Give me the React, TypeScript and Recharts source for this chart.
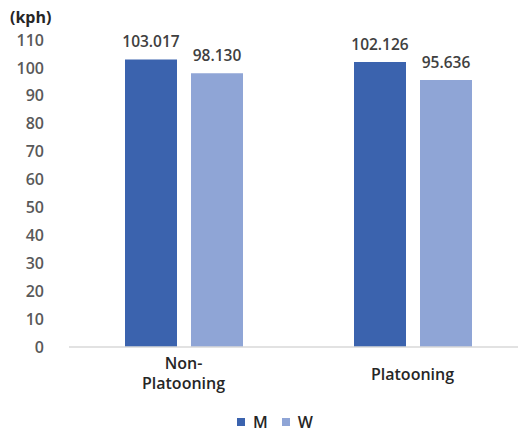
import React from "react";
import { BarChart, Bar, XAxis, YAxis, LabelList } from "recharts";

const categories = ["Non-\nPlatooning", "Platooning"];
const mValues = [103.017, 102.126];
const wValues = [98.13, 95.636];
const yTicks = [0, 10, 20, 30, 40, 50, 60, 70, 80, 90, 100, 110];
const seriesNames = ["M", "W"];

const data = categories.map((name, i) => ({ name, M: mValues[i], W: wValues[i] }));

const FONT = "'Open Sans', 'Noto Sans', sans-serif";
const M_COLOR = "#3B63AE";
const W_COLOR = "#8FA5D6";
const seriesColors = [M_COLOR, W_COLOR];

const CategoryTick = (props: any) => {
  const { x, y, payload } = props;
  const lines = String(payload.value).split("\n");
  const lineH = 20;
  const startY = y + 18 - ((lines.length - 1) * lineH) / 2 + (lines.length === 1 ? 1 : 0);
  return (
    <text x={x} textAnchor="middle" fill="#262626" fontSize={16} fontWeight={600} fontFamily={FONT}>
      {lines.map((l, i) => (
        <tspan key={i} x={x} y={startY + i * lineH} dy="0.355em">
          {l}
        </tspan>
      ))}
    </text>
  );
};

const LegendBox = () => (
  <div
    style={{
      position: "absolute",
      left: 10,
      width: 530,
      top: 414,
      display: "flex",
      justifyContent: "center",
      gap: 14,
      fontFamily: FONT,
      fontSize: 16,
      lineHeight: "16px",
      fontWeight: 600,
      color: "#262626",
    }}
  >
    {seriesNames.map((label, i) => (
      <span key={label} style={{ display: "flex", alignItems: "center", gap: 8 }}>
        <span style={{ width: 8, height: 8, background: seriesColors[i], display: "inline-block" }} />
        {label}
      </span>
    ))}
  </div>
);

const labelStyle = { fill: "#404040", fontSize: 15.5, fontWeight: 600, fontFamily: FONT };

export default function App() {
  return (
    <div
      style={{
        position: "absolute",
        left: 0,
        top: 0,
        width: 518,
        height: 432,
        background: "#fff",
        overflow: "hidden",
      }}
    >
      <div
        style={{
          position: "absolute",
          left: 10,
          top: 6,
          fontFamily: FONT,
          fontSize: 16,
          fontWeight: 700,
          color: "#262626",
        }}
      >
        (kph)
      </div>
      <BarChart
        width={530}
        height={432}
        data={data}
        margin={{ top: 40, right: 3, bottom: 0, left: 0 }}
        barCategoryGap={56}
        barGap={14}
      >
        <YAxis
          width={69}
          domain={[0, 110]}
          ticks={yTicks}
          interval={0}
          axisLine={false}
          tickLine={false}
          tickSize={0}
          tickMargin={25}
          tick={{ fill: "#595959", fontSize: 16, fontWeight: 600, fontFamily: FONT }}
        />
        <XAxis
          dataKey="name"
          height={85}
          axisLine={{ stroke: "#D9D9D9", strokeWidth: 1.5 }}
          tickLine={false}
          interval={0}
          tick={<CategoryTick />}
        />
        <Bar dataKey="M" fill={M_COLOR} barSize={52} isAnimationActive={false}>
          <LabelList
            dataKey="M"
            position="top"
            offset={12}
            formatter={(v: any) => Number(v).toFixed(3)}
            style={labelStyle}
          />
        </Bar>
        <Bar dataKey="W" fill={W_COLOR} barSize={52} isAnimationActive={false}>
          <LabelList
            dataKey="W"
            position="top"
            offset={12}
            formatter={(v: any) => Number(v).toFixed(3)}
            style={labelStyle}
          />
        </Bar>
      </BarChart>
      <LegendBox />
    </div>
  );
}
